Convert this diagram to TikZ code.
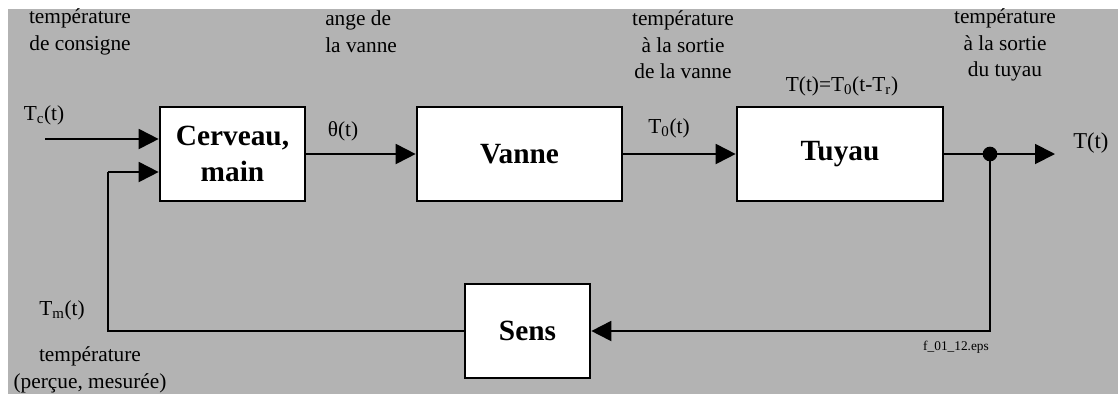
\documentclass[tikz,border=0pt]{standalone}
\usepackage{fontspec}
\setmainfont{Liberation Serif}
\usetikzlibrary{arrows.meta}
\definecolor{panel}{RGB}{179,179,179}
\tikzset{
  block/.style={draw=black, fill=white, line width=2pt, inner sep=0pt,
    minimum height=70.5pt, font=\fontsize{22}{27.5}\selectfont\bfseries, align=center},
  lbl/.style={inner sep=0pt, font=\fontsize{16}{20}\selectfont, align=center},
  sig/.style={line width=1.4pt, -{Triangle[length=15pt,width=15pt]}},
  wire/.style={line width=1.4pt},
}
\begin{document}
\begin{tikzpicture}[x=0.75pt,y=-0.75pt]
\useasboundingbox (0,0) rectangle (1118,394);
\fill[white] (0,0) rectangle (1118,394);
\fill[panel] (8,9) rectangle (1118,394);

% blocks
\node[block, minimum width=108.75pt] (cerv) at (232.5,154) {Cerveau,\\main};
\node[block, minimum width=153.75pt] (vanne) at (519.5,154) {Vanne};
\node[block, minimum width=154.5pt] (tuyau) at (840,154) {Tuyau};
\node[block, minimum width=93.75pt] (sens) at (527.5,331) {Sens};

% free ends and branch point
\coordinate (tcin) at (45,139);
\coordinate (fb) at (108,172);
\coordinate (j) at (990,154);
\coordinate (out) at (1055,154);

% forward path
\draw[sig] (tcin) -- (tcin -| cerv.west);
\draw[sig] (cerv.east) -- (vanne.west);
\draw[sig] (vanne.east) -- (tuyau.west);
\draw[sig] (tuyau.east) -- (out);
\fill (j) circle[radius=5.5pt];

% feedback path
\draw[sig] (j) |- (sens.east);
\draw[wire] (sens.west) -| (fb);
\draw[sig] (fb) -- (fb -| cerv.west);

% signal labels
\node[lbl] (lconsigne) at (80,32) {température\\de consigne};
\node[lbl, anchor=west, align=left] (lange) at (325,32) {ange de\\la vanne};
\node[lbl] (lsortv) at (683,45) {température\\à la sortie\\de la vanne};
\node[lbl] (lsortt) at (1005,45) {température\\à la sortie\\du tuyau};
\node[lbl] (leq) at (842,86) {T(t)=T\textsubscript{0}(t-T\textsubscript{r})};
\node[lbl] (ltheta) at (343,131) {θ(t)};
\node[lbl] (lt0) at (669,128) {T\textsubscript{0}(t)};
\node[lbl] (ltc) at (44,115) {T\textsubscript{c}(t)};
\node[lbl] (ltm) at (62,310) {T\textsubscript{m}(t)};
\node[lbl] (lpercue) at (90,370) {température\\(perçue, mesurée)};
\node[lbl, anchor=west, font=\fontsize{17}{20}\selectfont] (lt) at (1073,143) {T(t)};
\node[inner sep=0pt, font=\fontsize{10}{12}\selectfont] (lfile) at (956,347) {f\_01\_12.eps};
\end{tikzpicture}
\end{document}
